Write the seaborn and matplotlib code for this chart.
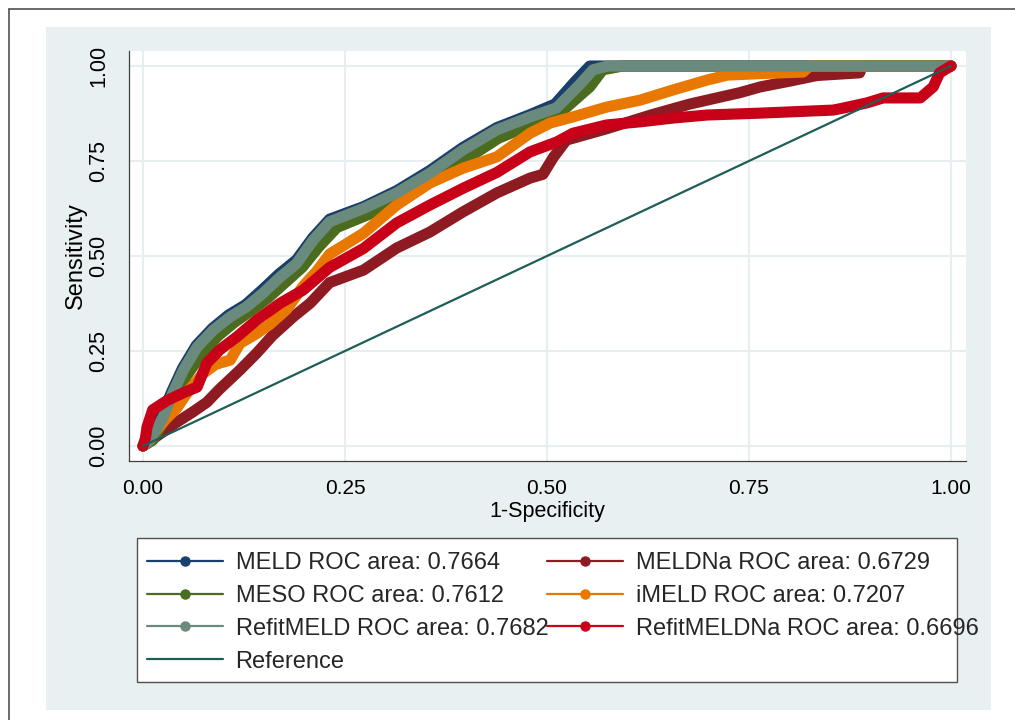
import matplotlib
matplotlib.use('Agg')
import matplotlib.pyplot as plt
import numpy as np
import pandas as pd
import seaborn as sns
from matplotlib.lines import Line2D
from matplotlib.patches import Rectangle

# ROC curves (1-specificity, sensitivity)
meld_x = [0, 0.009, 0.023, 0.036, 0.049, 0.066, 0.086, 0.106, 0.127, 0.147, 0.168, 0.19, 0.21,
          0.231, 0.273, 0.314, 0.355, 0.396, 0.438, 0.479, 0.51, 0.535, 0.553, 1.0]
meld_y = [0, 0.02, 0.08, 0.145, 0.205, 0.265, 0.31, 0.345, 0.372, 0.41, 0.452, 0.49, 0.548,
          0.597, 0.63, 0.672, 0.725, 0.786, 0.838, 0.872, 0.9, 0.96, 1.0, 1.0]

meldna_x = [0, 0.02, 0.04, 0.062, 0.079, 0.095, 0.12, 0.141, 0.16, 0.186, 0.207, 0.231, 0.273,
            0.314, 0.355, 0.396, 0.438, 0.479, 0.495, 0.508, 0.524, 0.574, 0.63, 0.677, 0.739,
            0.764, 0.8, 0.834, 0.887, 0.89, 1.0]
meldna_y = [0, 0.03, 0.06, 0.09, 0.115, 0.15, 0.2, 0.245, 0.29, 0.34, 0.376, 0.43, 0.463,
            0.521, 0.563, 0.616, 0.666, 0.705, 0.715, 0.76, 0.805, 0.835, 0.872, 0.9, 0.93,
            0.945, 0.96, 0.975, 0.982, 1.0, 1.0]

meso_x = [0, 0.012, 0.027, 0.04, 0.054, 0.072, 0.093, 0.113, 0.133, 0.155, 0.176, 0.197, 0.218,
          0.24, 0.28, 0.32, 0.36, 0.4, 0.44, 0.48, 0.516, 0.553, 0.569, 0.594, 1.0]
meso_y = [0, 0.015, 0.07, 0.125, 0.185, 0.24, 0.29, 0.325, 0.355, 0.39, 0.43, 0.47, 0.525,
          0.575, 0.61, 0.65, 0.7, 0.755, 0.81, 0.845, 0.876, 0.945, 0.99, 1.0, 1.0]

imeld_x = [0, 0.012, 0.028, 0.042, 0.058, 0.074, 0.09, 0.108, 0.12, 0.14, 0.157, 0.178, 0.198,
           0.215, 0.231, 0.273, 0.314, 0.355, 0.396, 0.438, 0.479, 0.504, 0.532, 0.574, 0.615,
           0.656, 0.698, 0.723, 0.764, 0.817, 0.825, 1.0]
imeld_y = [0, 0.03, 0.07, 0.1, 0.15, 0.19, 0.215, 0.226, 0.27, 0.295, 0.32, 0.36, 0.42,
           0.46, 0.505, 0.56, 0.634, 0.692, 0.731, 0.761, 0.823, 0.85, 0.866, 0.892, 0.91,
           0.937, 0.963, 0.976, 0.98, 0.984, 1.0, 1.0]

refitmeld_x = [0, 0.009, 0.025, 0.037, 0.05, 0.067, 0.087, 0.108, 0.128, 0.149, 0.17, 0.19, 0.21,
               0.231, 0.273, 0.314, 0.355, 0.396, 0.438, 0.479, 0.512, 0.54, 0.557, 0.575, 1.0]
refitmeld_y = [0, 0.016, 0.076, 0.14, 0.2, 0.26, 0.305, 0.34, 0.366, 0.403, 0.445, 0.48, 0.54,
               0.59, 0.625, 0.666, 0.718, 0.779, 0.832, 0.866, 0.89, 0.95, 0.99, 1.0, 1.0]

refitmeldna_x = [0, 0.003, 0.005, 0.012, 0.03, 0.05, 0.067, 0.079, 0.095, 0.116, 0.141, 0.17,
                 0.198, 0.231, 0.273, 0.314, 0.355, 0.396, 0.438, 0.479, 0.512, 0.532, 0.574,
                 0.615, 0.656, 0.698, 0.764, 0.854, 0.866, 0.896, 0.916, 0.962, 0.978, 0.986, 1.0]
refitmeldna_y = [0, 0.02, 0.05, 0.095, 0.12, 0.14, 0.155, 0.218, 0.253, 0.287, 0.332, 0.376,
                 0.41, 0.47, 0.52, 0.587, 0.634, 0.678, 0.72, 0.774, 0.8, 0.823, 0.845,
                 0.853, 0.863, 0.871, 0.876, 0.884, 0.889, 0.903, 0.916, 0.916, 0.945, 0.982, 1.0]

ref_x = [0, 1]
ref_y = [0, 1]

models = ['MELD', 'MELDNa', 'MESO', 'iMELD', 'RefitMELD', 'RefitMELDNa']
roc_area = [0.7664, 0.6729, 0.7612, 0.7207, 0.7682, 0.6696]
curves_x = [meld_x, meldna_x, meso_x, imeld_x, refitmeld_x, refitmeldna_x]
curves_y = [meld_y, meldna_y, meso_y, imeld_y, refitmeld_y, refitmeldna_y]
colors = ['#1A3F6B', '#8E1B22', '#4B6B1E', '#E87800', '#6A8A7E', '#C80018']
ref_color = '#1F5E57'
ticks = [0, 0.25, 0.5, 0.75, 1.0]
tick_labels = ['0.00', '0.25', '0.50', '0.75', '1.00']

# long table for seaborn
frames = []
for name, xs, ys in zip(models, curves_x, curves_y):
    frames.append(pd.DataFrame({'fpr': xs, 'tpr': ys, 'model': name}))
df = pd.concat(frames, ignore_index=True)

sns.set_theme(style='white')
plt.rcParams['font.family'] = ['Liberation Sans', 'DejaVu Sans']

W, H = 1015, 720
fig = plt.figure(figsize=(W / 100, H / 100), dpi=100)
fig.patch.set_facecolor('white')

# graph region background and cropped page frame
fig.patches.append(Rectangle((46 / W, 1 - 710 / H), (991 - 46) / W, (710 - 27) / H,
                             transform=fig.transFigure, facecolor='#E9F0F2',
                             edgecolor='none', zorder=-5))
fig.add_artist(Line2D([9 / W, 9 / W], [0, 1 - 9 / H], transform=fig.transFigure,
                      color='#505050', lw=1.2))
fig.add_artist(Line2D([9 / W, 1], [1 - 9 / H, 1 - 9 / H], transform=fig.transFigure,
                      color='#505050', lw=1.2))

ax = fig.add_axes([129 / W, 1 - 461 / H, (966 - 129) / W, (461 - 51) / H])
ax.set_facecolor('white')

sns.lineplot(data=df, x='fpr', y='tpr', hue='model', hue_order=models,
             palette=dict(zip(models, colors)), sort=False, estimator=None,
             lw=8, solid_capstyle='round', solid_joinstyle='round',
             legend=False, ax=ax)
sns.lineplot(x=ref_x, y=ref_y, color=ref_color, lw=1.6, ax=ax)

ax.set_xlim(-0.0173, 1.0186)
ax.set_ylim(-0.0395, 1.0395)
ax.set_xticks(ticks)
ax.set_yticks(ticks)
ax.set_xticklabels(tick_labels, fontsize=15)
ax.set_yticklabels(tick_labels, fontsize=15.5, rotation=90, va='center')
ax.grid(True, color='#E6EEF0', lw=1.5)
ax.set_axisbelow(True)
for side in ['top', 'right']:
    ax.spines[side].set_visible(False)
for side in ['left', 'bottom']:
    ax.spines[side].set_color('#404040')
    ax.spines[side].set_linewidth(0.9)
ax.tick_params(axis='both', direction='out', length=4, width=0.9, color='#404040',
               labelcolor='black')
ax.tick_params(axis='x', pad=9)
ax.tick_params(axis='y', pad=10)

ax.set_xlabel('1-Specificity', fontsize=15.5, color='black')
ax.xaxis.set_label_coords(0.5, (461 - 501) / 410)
ax.set_ylabel('Sensitivity', fontsize=17, color='black')
ax.yaxis.set_label_coords((87 - 129) / 837, 0.5)

# legend frame is narrower than the text, as in the original
fig.patches.append(Rectangle((137 / W, 1 - 682 / H), (957 - 137) / W, (682 - 538) / H,
                             transform=fig.transFigure, facecolor='white',
                             edgecolor='#505050', lw=1.0, zorder=1))

handles = {}
for name, c, area in zip(models, colors, roc_area):
    handles[name] = (Line2D([0], [0], color=c, lw=1.6, marker='o', ms=6.5),
                     f'{name} ROC area: {area:.4f}')
handles['Reference'] = (Line2D([0], [0], color=ref_color, lw=1.6), 'Reference')
order = ['MELD', 'MESO', 'RefitMELD', 'Reference', 'MELDNa', 'iMELD', 'RefitMELDNa']
fig.legend([handles[k][0] for k in order], [handles[k][1] for k in order],
           loc='upper left', bbox_to_anchor=(147 / W, 1 - 552 / H),
           bbox_transform=fig.transFigure, ncol=2, frameon=False, fontsize=17,
           handlelength=3.2, handletextpad=0.55, columnspacing=-0.05,
           labelspacing=0.46, borderpad=0, borderaxespad=0)

fig.savefig('out.png', dpi=100, facecolor='white')
